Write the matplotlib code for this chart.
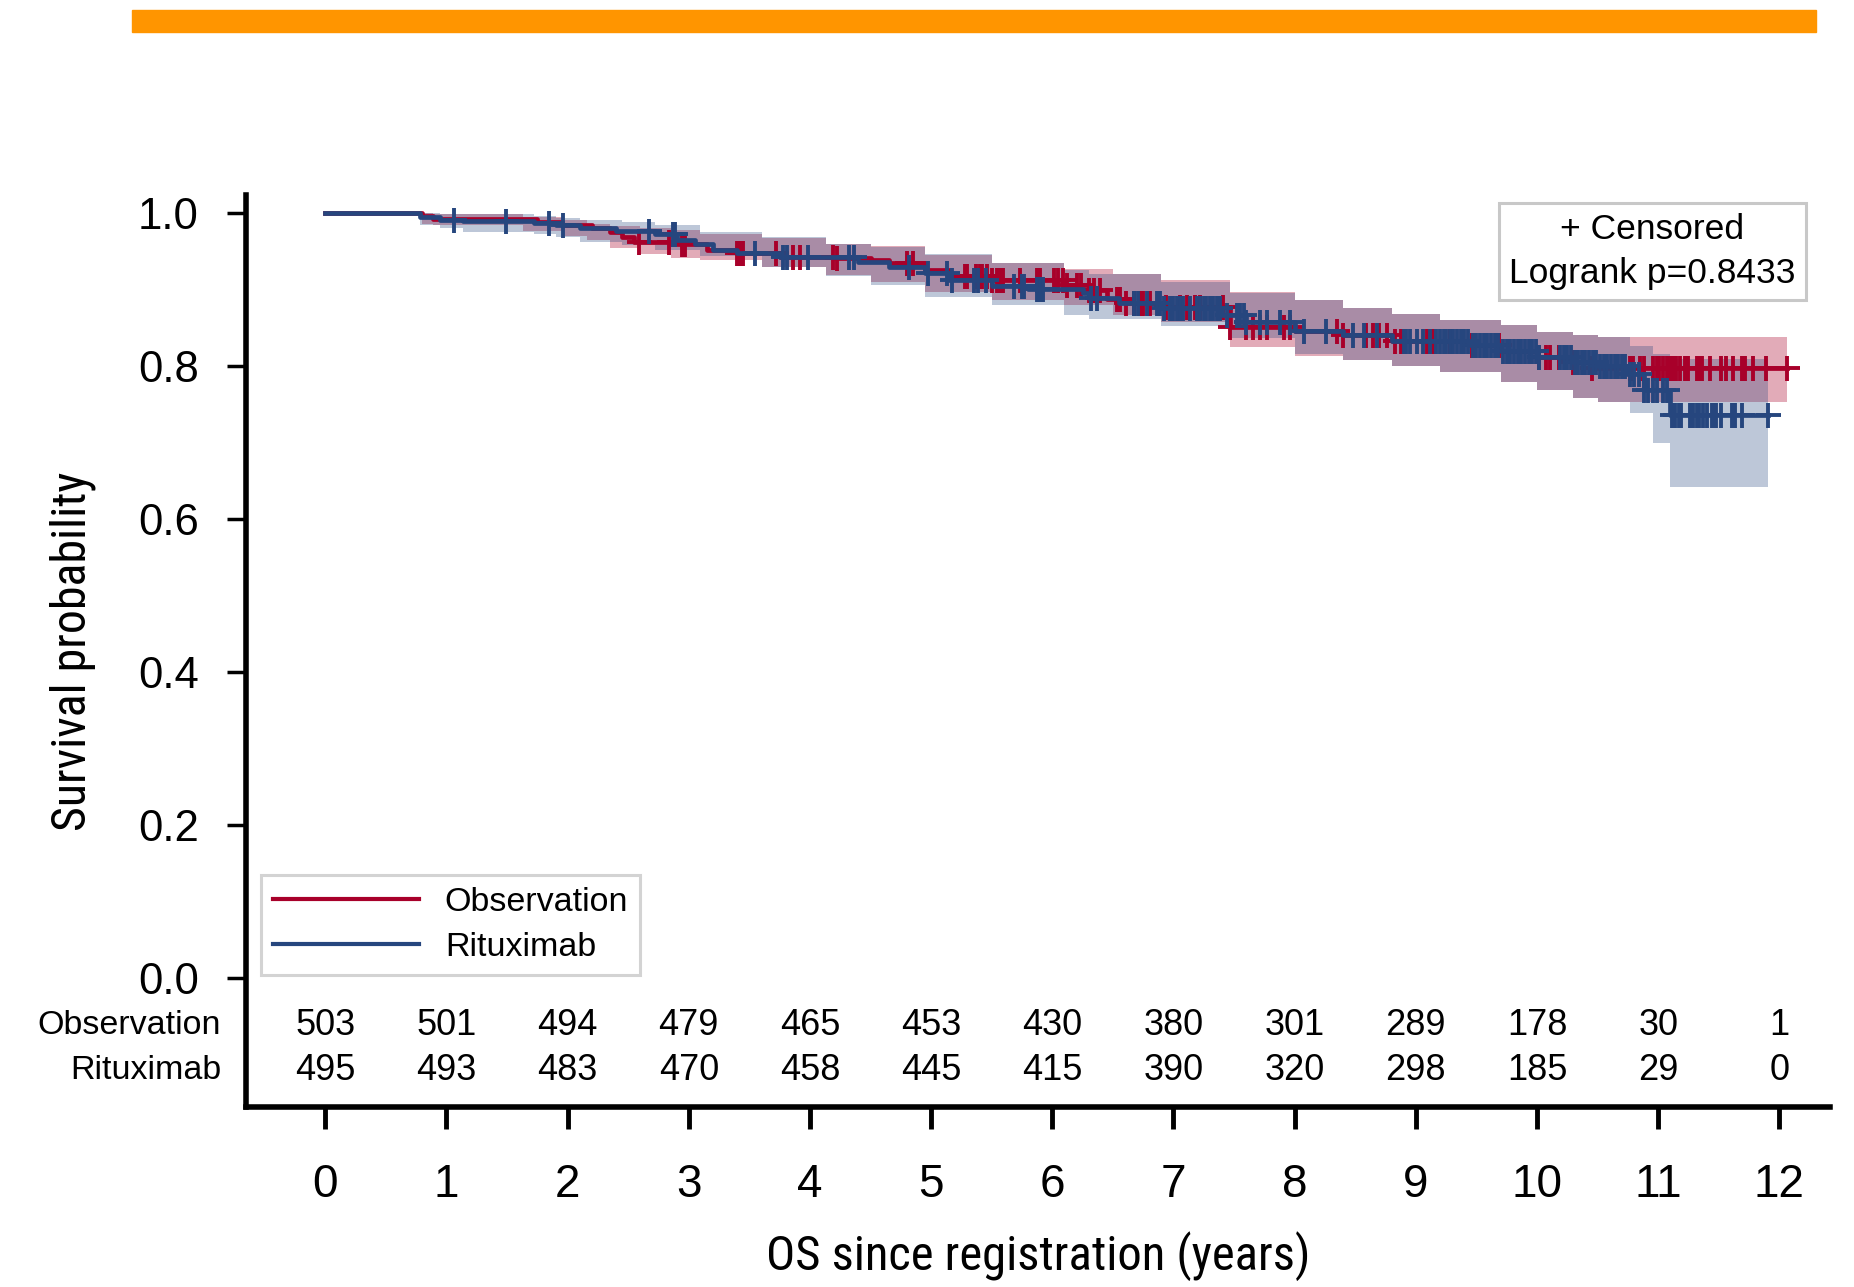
import numpy as np
import matplotlib.pyplot as plt
from matplotlib import font_manager as fm
from matplotlib.lines import Line2D
from matplotlib.patches import Rectangle

plt.rcParams['font.family'] = ['Liberation Sans', 'DejaVu Sans']

# numbers at risk
years = list(range(13))
obs_at_risk = [503, 501, 494, 479, 465, 453, 430, 380, 301, 289, 178, 30, 1]
rit_at_risk = [495, 493, 483, 470, 458, 445, 415, 390, 320, 298, 185, 29, 0]

# Kaplan-Meier steps (years, survival)
obs_time = [0, 0.80, 0.89, 1.75, 1.95, 2.20, 2.35, 2.45, 2.55, 2.85, 3.15, 3.40,
            3.75, 4.20, 4.50, 4.65, 4.95, 5.15, 5.50, 6.10, 6.30, 6.45, 6.60,
            6.90, 7.47, 8.00, 8.40, 8.80, 9.45, 9.70, 10.00, 10.30, 10.45]
obs_surv = [1.0, 0.996, 0.992, 0.988, 0.984, 0.980, 0.975, 0.969, 0.962, 0.959,
            0.952, 0.948, 0.943, 0.941, 0.939, 0.934, 0.925, 0.917, 0.913, 0.906,
            0.899, 0.888, 0.882, 0.877, 0.851, 0.846, 0.840, 0.833, 0.827, 0.819,
            0.812, 0.805, 0.797]
obs_end = 12.06

rit_time = [0, 0.78, 0.95, 1.14, 1.72, 1.90, 2.10, 2.40, 2.72, 2.90, 3.05, 3.20,
            3.40, 3.75, 4.40, 4.65, 4.95, 5.15, 5.50, 5.80, 6.25, 6.30, 6.55,
            6.90, 7.40, 7.60, 8.00, 8.40, 8.80, 9.45, 9.70, 10.00, 10.30, 10.50,
            10.74, 10.88, 11.10]
rit_surv = [1.0, 0.995, 0.991, 0.990, 0.987, 0.984, 0.980, 0.976, 0.972, 0.965,
            0.959, 0.952, 0.948, 0.943, 0.936, 0.930, 0.921, 0.913, 0.905, 0.900,
            0.895, 0.889, 0.882, 0.876, 0.866, 0.857, 0.846, 0.840, 0.833, 0.827,
            0.819, 0.812, 0.805, 0.800, 0.790, 0.768, 0.736]
rit_end = 11.91

# confidence bands
obs_ci_time = [0, 0.80, 0.89, 1.63, 1.95, 2.16, 2.35, 2.60, 2.85, 3.09, 3.60,
               4.13, 4.50, 4.95, 5.50, 6.10, 6.50, 6.90, 7.47, 8.00, 8.40, 8.80,
               9.20, 9.70, 10.00, 10.30, 10.50, 12.06]
obs_ci_hi = [1.0, 1.0, 0.999, 0.995, 0.991, 0.986, 0.983, 0.980, 0.978, 0.973,
             0.967, 0.960, 0.957, 0.945, 0.934, 0.927, 0.920, 0.912, 0.897, 0.886,
             0.876, 0.868, 0.860, 0.854, 0.845, 0.841, 0.838, 0.838]
obs_ci_lo = [1.0, 0.986, 0.984, 0.976, 0.970, 0.965, 0.954, 0.946, 0.941, 0.939,
             0.930, 0.919, 0.910, 0.897, 0.886, 0.880, 0.866, 0.858, 0.825, 0.813,
             0.808, 0.800, 0.792, 0.779, 0.768, 0.758, 0.753, 0.753]

rit_ci_time = [0, 0.78, 0.95, 1.14, 1.72, 1.90, 2.10, 2.45, 2.72, 3.09, 3.60,
               4.13, 4.50, 4.95, 5.50, 6.10, 6.30, 6.90, 7.47, 8.00, 8.40, 8.80,
               9.20, 9.70, 10.00, 10.30, 10.50, 10.77, 10.96, 11.10, 11.91]
rit_ci_hi = [1.0, 1.0, 0.999, 0.998, 0.996, 0.994, 0.991, 0.988, 0.984, 0.975,
             0.968, 0.960, 0.955, 0.946, 0.934, 0.926, 0.920, 0.910, 0.895, 0.886,
             0.876, 0.868, 0.860, 0.854, 0.845, 0.841, 0.838, 0.826, 0.815, 0.809,
             0.809]
rit_ci_lo = [1.0, 0.984, 0.980, 0.975, 0.972, 0.968, 0.962, 0.958, 0.952, 0.944,
             0.929, 0.918, 0.906, 0.890, 0.880, 0.866, 0.862, 0.852, 0.836, 0.815,
             0.808, 0.800, 0.792, 0.779, 0.768, 0.758, 0.753, 0.738, 0.699, 0.642,
             0.642]

# censoring times
obs_cens = [2.59, 2.84, 2.94, 2.97, 3.40, 3.42, 3.45, 3.72, 3.86, 3.92, 4.19, 4.22,
            4.80, 4.85, 5.28, 5.30, 5.37, 5.40, 5.42, 5.46, 5.50, 5.54, 5.57, 5.59,
            5.73, 5.87, 5.90, 6.01, 6.05, 6.09, 6.12, 6.20, 6.24, 6.30, 6.34, 6.39,
            6.53, 6.56, 6.61, 6.67, 6.72, 6.75, 6.81, 6.94, 7.05, 7.11, 7.18, 7.22,
            7.41, 7.47, 7.60, 7.66, 7.71, 7.77, 7.91, 7.96, 8.35, 8.40, 8.59, 8.65,
            8.70, 8.76, 8.83, 8.88, 9.09, 9.14, 9.28, 9.46, 9.69, 10.02, 10.07, 10.11,
            10.18, 10.30, 10.45, 10.77, 10.79, 10.85, 10.88, 10.96, 10.99, 11.01,
            11.04, 11.07, 11.10, 11.12, 11.15, 11.18, 11.22, 11.25, 11.32, 11.34,
            11.36, 11.43, 11.52, 11.56, 11.62, 11.69, 11.72, 11.78, 11.89, 12.06]
rit_cens = [1.06, 1.49, 1.85, 1.96, 2.67, 2.87, 2.89, 3.55, 3.78, 3.81, 3.98, 4.32,
            4.36, 4.82, 4.97, 5.13, 5.17, 5.35, 5.39, 5.45, 5.68, 5.75, 5.77, 5.87,
            5.90, 5.92, 6.32, 6.37, 6.67, 6.71, 6.78, 6.86, 6.89, 6.92, 6.97, 7.00,
            7.03, 7.05, 7.08, 7.14, 7.19, 7.22, 7.25, 7.27, 7.30, 7.33, 7.36, 7.38,
            7.44, 7.52, 7.55, 7.58, 7.60, 7.71, 7.77, 7.88, 7.96, 8.08, 8.26, 8.48,
            8.57, 8.68, 8.90, 8.92, 8.95, 9.01, 9.06, 9.12, 9.17, 9.20, 9.23, 9.25,
            9.28, 9.31, 9.34, 9.37, 9.40, 9.43, 9.47, 9.50, 9.53, 9.56, 9.59, 9.62,
            9.65, 9.68, 9.72, 9.75, 9.78, 9.81, 9.84, 9.87, 9.90, 9.93, 9.96, 9.99,
            10.02, 10.19, 10.22, 10.25, 10.28, 10.31, 10.34, 10.37, 10.40, 10.43,
            10.46, 10.49, 10.52, 10.55, 10.58, 10.61, 10.64, 10.67, 10.70, 10.73,
            10.77, 10.80, 10.84, 10.88, 10.92, 10.96, 10.99, 11.04, 11.07, 11.11,
            11.14, 11.17, 11.19, 11.26, 11.29, 11.32, 11.34, 11.37, 11.40, 11.44,
            11.46, 11.48, 11.52, 11.61, 11.63, 11.69, 11.91]

RED = '#A8002A'
BLUE = '#26467E'


def surv_at(times, surv, t):
    idx = np.searchsorted(times, t, side='right') - 1
    return np.asarray(surv)[idx]


def narrow_font(size):
    # a condensed face for the axis titles, if one is installed
    names = {f.name for f in fm.fontManager.ttflist}
    for n in ['Roboto Condensed', 'Liberation Sans Narrow', 'Open Sans Condensed']:
        if n in names:
            return fm.FontProperties(family=n, size=size)
    for f in fm.fontManager.ttflist:
        if f.name == 'DejaVu Sans' and 'ondensed' in f.fname and f.weight in (400, 'normal') \
                and f.style == 'normal':
            return fm.FontProperties(fname=f.fname, size=size)
    return fm.FontProperties(family='Liberation Sans', size=size * 0.72)


fig = plt.figure(figsize=(18.54, 12.87), dpi=100)
fig.patches.append(Rectangle((0.0712, 0.9751), 0.9083, 0.0175,
                             transform=fig.transFigure, color='#FF9500'))
ax = fig.add_axes([0.1327, 0.1399, 0.8543, 0.7086])

# bands
ax.fill_between(obs_ci_time, obs_ci_lo, obs_ci_hi, step='post',
                color=RED, alpha=0.33, lw=0)
ax.fill_between(rit_ci_time, rit_ci_lo, rit_ci_hi, step='post',
                color=BLUE, alpha=0.30, lw=0)

# curves
for times, surv, end, cens, col in [(obs_time, obs_surv, obs_end, obs_cens, RED),
                                     (rit_time, rit_surv, rit_end, rit_cens, BLUE)]:
    ax.step(times + [end], surv + [surv[-1]], where='post', color=col, lw=3.4)
    ax.plot(cens, surv_at(times, surv, cens), ls='none', marker='+',
            ms=18, mew=2.8, color=col)

# numbers at risk
for x, a, b in zip(years, obs_at_risk, rit_at_risk):
    ax.text(x, -0.0627, str(a), ha='center', va='center', fontsize=26)
    ax.text(x, -0.1216, str(b), ha='center', va='center', fontsize=26)
ax.text(-0.86, -0.0627, 'Observation', ha='right', va='center', fontsize=24.5,
        clip_on=False)
ax.text(-0.86, -0.1216, 'Rituximab', ha='right', va='center', fontsize=24.5,
        clip_on=False)

ax.set_xlim(-0.654, 12.417)
ax.set_ylim(-0.1686, 1.0235)
ax.set_xticks(years)
ax.set_yticks([0, 0.2, 0.4, 0.6, 0.8, 1.0])
ax.set_yticklabels(['0.0', '0.2', '0.4', '0.6', '0.8', '1.0'])
ax.tick_params(axis='x', direction='out', length=16, width=3.5, pad=24,
               labelsize=33)
ax.tick_params(axis='y', direction='out', length=14, width=2.5, pad=20,
               labelsize=31.5)
for side in ['top', 'right']:
    ax.spines[side].set_visible(False)
for side in ['left', 'bottom']:
    ax.spines[side].set_linewidth(4)

ax.set_xlabel('OS since registration (years)', fontproperties=narrow_font(35),
              labelpad=18)
ax.set_ylabel('Survival probability', fontproperties=narrow_font(34.5),
              labelpad=30)

handles = [Line2D([], [], color=RED, lw=3.0), Line2D([], [], color=BLUE, lw=3.0)]
leg = ax.legend(handles, ['Observation', 'Rituximab'], loc='lower left',
                bbox_to_anchor=(0.0095, 0.1447), fontsize=24.5, frameon=True,
                fancybox=False, handlelength=4.3, handletextpad=0.75,
                borderaxespad=0, labelspacing=0.42, borderpad=0.35)
leg.get_frame().set_edgecolor('#C8C8C8')
leg.get_frame().set_linewidth(2.2)

ax.text(0.888, 0.938, '+ Censored\nLogrank p=0.8433', transform=ax.transAxes,
        ha='center', va='center', fontsize=25.5, linespacing=1.4,
        bbox=dict(boxstyle='square,pad=0.3', fc='white', ec='#C8C8C8', lw=2.2))

fig.savefig('out.png', dpi=100)
